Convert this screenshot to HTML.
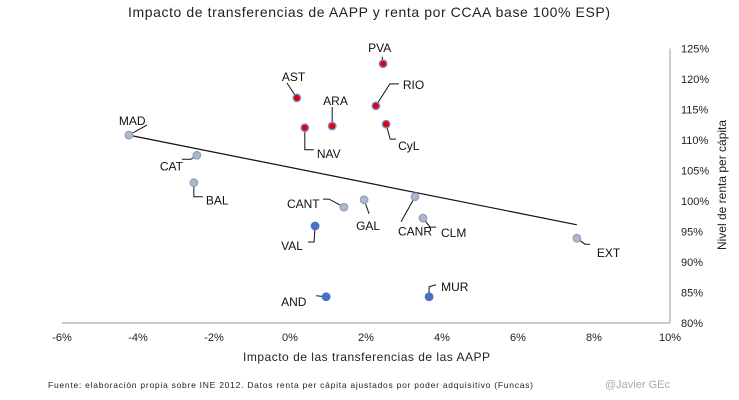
<!DOCTYPE html>
<html><head><meta charset="utf-8"><style>
body{margin:0;background:#fff;}
svg{display:block;font-family:"Liberation Sans",sans-serif;}
</style></head><body>
<svg id="c" width="739" height="400">
<text x="128" y="17" textLength="482" font-size="14" fill="#222">Impacto de transferencias de AAPP y renta  por CCAA  base 100% ESP)</text>
<text x="243" y="361" textLength="247" font-size="12" fill="#222">Impacto de las transferencias de las AAPP</text>
<text transform="translate(726,185) rotate(-90)" text-anchor="middle" font-size="12" fill="#222">Nivel de renta per cápita</text>
<text x="48" y="388" textLength="485" font-size="8.5" fill="#222">Fuente: elaboración  propia sobre INE 2012. Datos renta per cápita ajustados por poder adquisitivo (Funcas)</text>
<text x="605" y="388" font-size="11" fill="#aaa">@Javier GEc</text>
<g id="g"></g>
</svg>
<script>
const regions=["MAD","CAT","BAL","AST","NAV","ARA","PVA","RIO","CyL","CANT","GAL","CANR","CLM","EXT","VAL","AND","MUR"];
const xValues=[-4.24,-2.45,-2.53,0.18,0.39,1.11,2.45,2.26,2.53,1.42,1.95,3.29,3.50,7.55,0.66,0.95,3.66];
const yValues=[110.8,107.5,103.0,116.9,112.0,112.3,122.5,115.6,112.6,99.0,100.2,100.7,97.2,93.9,95.9,84.3,84.3];
const groups=["g","g","g","r","r","r","r","r","r","g","g","g","g","g","b","b","b"];
const trendX=[-4.24,7.55];
const trendY=[110.8,96.1];
const xTicks=[-6,-4,-2,0,2,4,6,8,10];
const yTicks=[80,85,90,95,100,105,110,115,120,125];
const NS="http://www.w3.org/2000/svg";
const g=document.getElementById('g');
const X=v=>290+v*38, Y=v=>323-(v-80)*6.1;
function el(t,a){const e=document.createElementNS(NS,t);for(const k in a)e.setAttribute(k,a[k]);g.appendChild(e);return e;}
let ax=el('line',{x1:X(-6),x2:X(10),y1:Y(80),y2:Y(80),stroke:'#999'});

let ay=el('line',{x1:X(10),x2:X(10),y1:Y(80),y2:Y(125),stroke:'#999'});

xTicks.forEach(t=>{let e=el('text',{x:X(t),y:341,'text-anchor':'middle','font-size':11,fill:'#222'});e.textContent=t+'%';
});
yTicks.forEach(t=>{let e=el('text',{x:681,y:Y(t)+4,'font-size':11,fill:'#222'});e.textContent=t+'%';
});
let tl=el('line',{x1:X(trendX[0]),y1:Y(trendY[0]),x2:X(trendX[1]),y2:Y(trendY[1]),stroke:'#111','stroke-width':1.2});

const lab={MAD:[-10,-14,'start','M0 0 L18 -10'],CAT:[-37,11,'start','M0 0 L-6 4 L-15 4'],BAL:[12,18,'start','M0 0 L0 14 L9 14'],
AST:[-15,-21,'start','M0 0 L-10 -15'],NAV:[12,26,'start','M0 0 L0 22 L9 22'],ARA:[-9,-25,'start','M0 0 L0 -19'],
PVA:[-15,-16,'start','M0 0 L-1 -7'],RIO:[27,-21,'start','M0 0 L14 -22 L23 -22'],CyL:[12,22,'start','M0 0 L4 15 L10 15'],
CANT:[-57,-3,'start','M0 0 L-15 -8 L-21 -8'],GAL:[-8,26,'start','M0 0 L5 14'],CANR:[-17,35,'start','M0 0 L-14 25'],
CLM:[18,15,'start','M0 0 L7 9 L13 9'],EXT:[20,15,'start','M0 0 L8 6 L13 6'],VAL:[-34,20,'start','M0 0 L-1 16 L-7 16'],
AND:[-45,5,'start','M0 0 L-10 -1'],MUR:[12,-10,'start','M0 0 L0 -10 L7 -12']};
const fills={g:'#b4b8c2',r:'#e60000',b:'#4472c4'},strokes={g:'#8fa3c8',r:'#6f8fd0',b:'#4472c4'};
regions.forEach((r,i)=>{const px=X(xValues[i]),py=Y(yValues[i]);const L=lab[r];
let p=el('path',{d:L[3],transform:`translate(${px},${py})`,fill:'none',stroke:'#111','stroke-width':1});

let c=el('circle',{cx:px,cy:py,r:3.7,fill:fills[groups[i]],stroke:strokes[groups[i]],'stroke-width':1.4});

let t=el('text',{x:px+L[0],y:py+L[1]+4,'font-size':12,fill:'#111','text-anchor':L[2]});t.textContent=r;
});
</script>
</body></html>
